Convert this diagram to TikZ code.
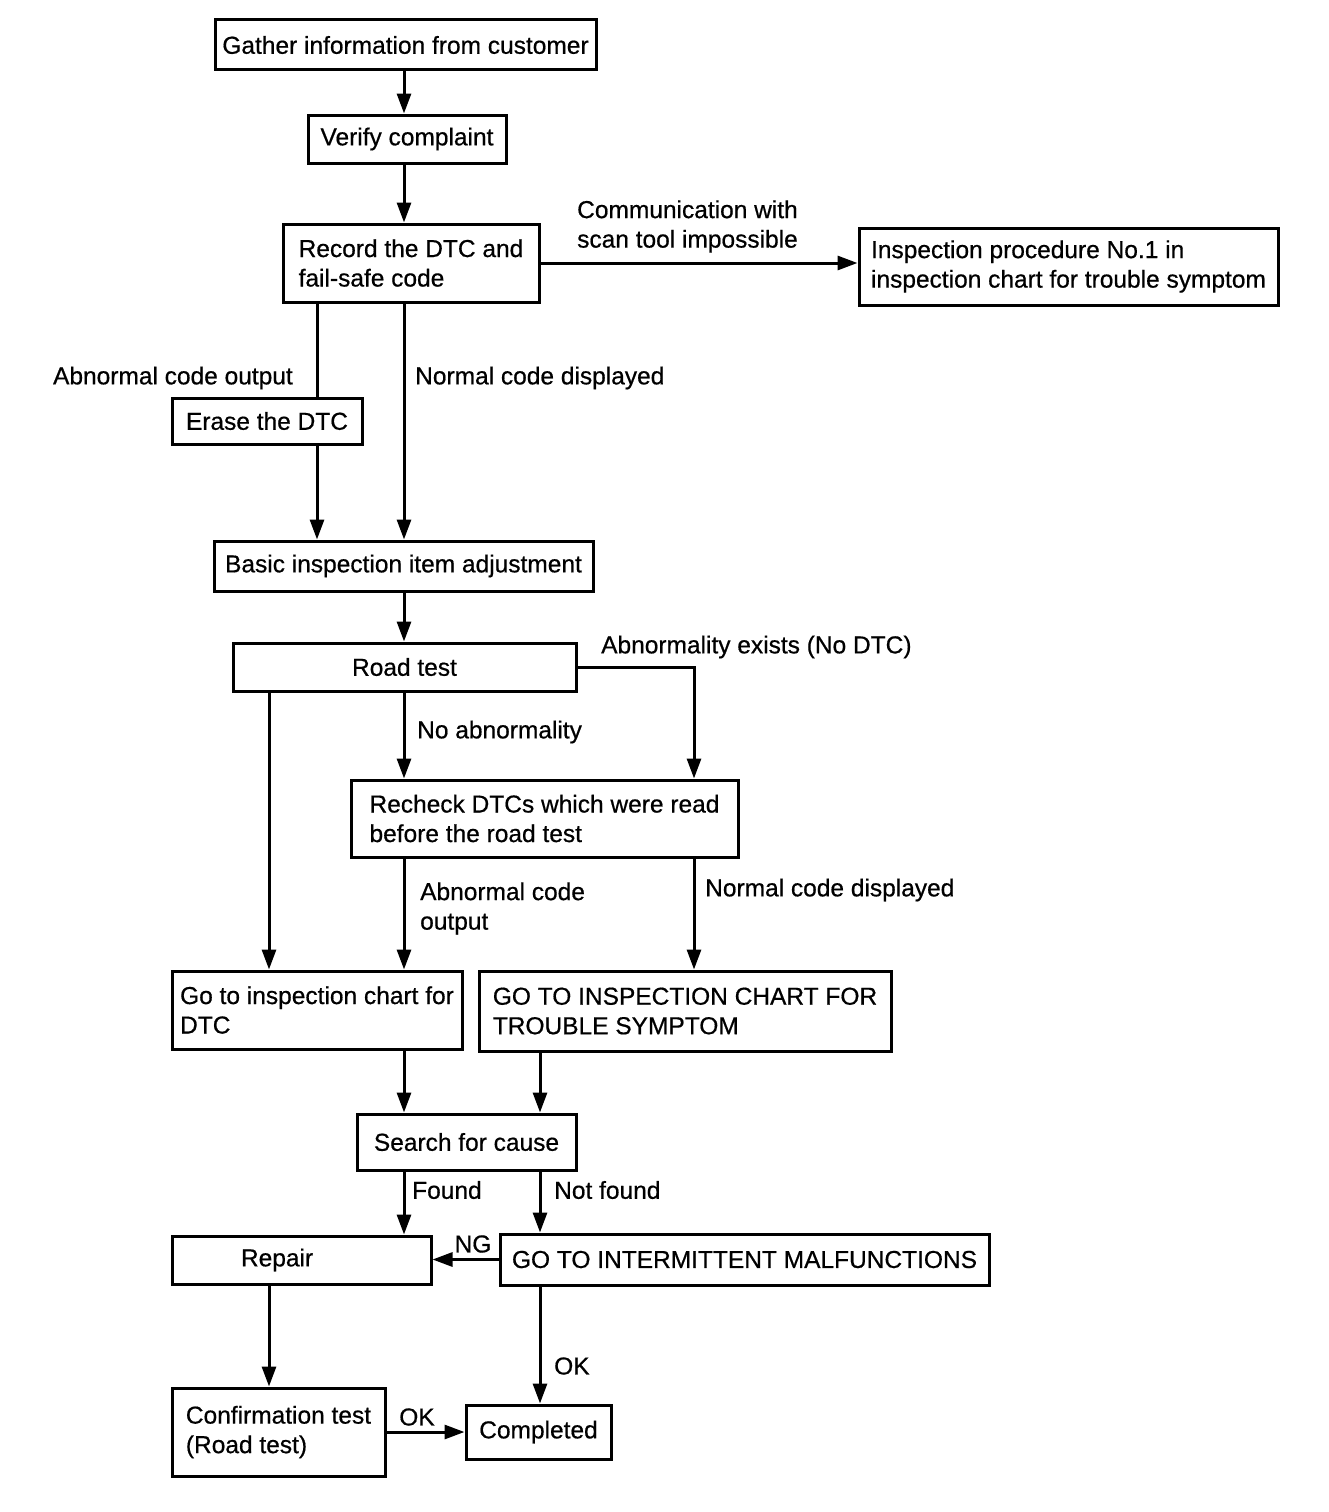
\documentclass[tikz,border=0pt]{standalone}
\usepackage{fontspec}
\setmainfont{Liberation Sans}[FakeBold=0.6]
\usetikzlibrary{arrows.meta}

\begin{document}
\begin{tikzpicture}[x=1pt,y=-1pt,
  font=\fontsize{24.5}{29.5}\selectfont,
  box/.style={draw, line width=3pt, inner sep=0pt, align=left},
  lbl/.style={inner sep=0pt, align=left},
  arr/.style={line width=3pt, -{Triangle[length=20pt,width=14pt]}},
  wire/.style={line width=3pt}]

\useasboundingbox (0,0) rectangle (1328,1512);

% Boxes of the main column
\node[box, minimum width=381, minimum height=50] (gather) at (405.5,45) {Gather information from customer};
\node[box, minimum width=198, minimum height=48] (verify) at (407,139) {Verify complaint};
\node[box, minimum width=256, minimum height=78] (record) at (411,263) {Record the DTC and\\fail-safe code};
\node[box, minimum width=419, minimum height=77] (insp) at (1068.5,266.5) {Inspection procedure No.1 in\\inspection chart for trouble symptom};
\node[box, minimum width=190, minimum height=46] (erase) at (267,421) {Erase the DTC};
\node[box, minimum width=379, minimum height=50] (basic) at (403.5,566) {Basic inspection item adjustment};
\node[box, minimum width=343, minimum height=48] (road) at (404.5,667) {Road test};
\node[box, minimum width=387, minimum height=77] (recheck) at (544.5,818.5) {Recheck DTCs which were read\\before the road test};

% Boxes of the lower part
\node[box, minimum width=290, minimum height=78] (godtc) at (317,1010) {Go to inspection chart for\\DTC};
\node[box, minimum width=412, minimum height=80] (gosym) at (685,1011) {GO TO INSPECTION CHART FOR\\TROUBLE SYMPTOM};
\node[box, minimum width=219, minimum height=56] (search) at (466.5,1142) {Search for cause};
\node[box, minimum height=48, text width=121, inner xsep=69] (repair) at (301.5,1260) {Repair};
\node[box, minimum width=489, minimum height=51] (intermit) at (744.5,1259.5) {GO TO INTERMITTENT MALFUNCTIONS};
\node[box, minimum width=213, minimum height=88] (confirm) at (278.5,1432) {Confirmation test\\(Road test)};
\node[box, minimum width=145, minimum height=54] (completed) at (538.5,1432) {Completed};

% Labels on the connectors
\node[lbl, anchor=west] (comm) at (577,226.5) {Communication with\\scan tool impossible};
\node[lbl, anchor=east] (abnout) at (293,378) {Abnormal code output};
\node[lbl, anchor=west] (normdisp) at (415,378) {Normal code displayed};
\node[lbl, anchor=west] (abnexist) at (601,647) {Abnormality exists (No DTC)};
\node[lbl, anchor=west] (noabn) at (417,732) {No abnormality};
\node[lbl, anchor=west] (abnout2) at (420,908.5) {Abnormal code\\output};
\node[lbl, anchor=west] (normdisp2) at (705,890) {Normal code displayed};
\node[lbl, anchor=west] (found) at (412,1190) {Found};
\node[lbl, anchor=west] (notfound) at (554,1190) {Not found};
\node[lbl] (ng) at (473,1244) {NG};
\node[lbl, anchor=west] (okdone) at (554,1366) {OK};
\node[lbl] (okconf) at (417,1417) {OK};

% Columns for the vertical connectors
\coordinate (cm) at (404,0);
\coordinate (ce) at (317,0);
\coordinate (cl) at (269,0);
\coordinate (cr) at (540,0);
\coordinate (cx) at (694,0);

% Connectors
\draw[arr] (gather.south -| cm) -- (verify.north -| cm);
\draw[arr] (verify.south -| cm) -- (record.north -| cm);
\draw[arr] (record.east) -- (record.east -| insp.west);
\draw[wire] (record.south -| ce) -- (erase.north -| ce);
\draw[arr] (erase.south -| ce) -- (basic.north -| ce);
\draw[arr] (record.south -| cm) -- (basic.north -| cm);
\draw[arr] (basic.south -| cm) -- (road.north -| cm);
\draw[arr] (road.east) -| (recheck.north -| cx);
\draw[arr] (road.south -| cm) -- (recheck.north -| cm);
\draw[arr] (road.south -| cl) -- (godtc.north -| cl);
\draw[arr] (recheck.south -| cm) -- (godtc.north -| cm);
\draw[arr] (recheck.south -| cx) -- (gosym.north -| cx);
\draw[arr] (godtc.south -| cm) -- (search.north -| cm);
\draw[arr] (gosym.south -| cr) -- (search.north -| cr);
\draw[arr] (search.south -| cm) -- (repair.north -| cm);
\draw[arr] (search.south -| cr) -- (intermit.north -| cr);
\draw[arr] (intermit.west) -- (intermit.west -| repair.east);
\draw[arr] (repair.south -| cl) -- (confirm.north -| cl);
\draw[arr] (intermit.south -| cr) -- (completed.north -| cr);
\draw[arr] (confirm.east) -- (completed.west);

\end{tikzpicture}
\end{document}
